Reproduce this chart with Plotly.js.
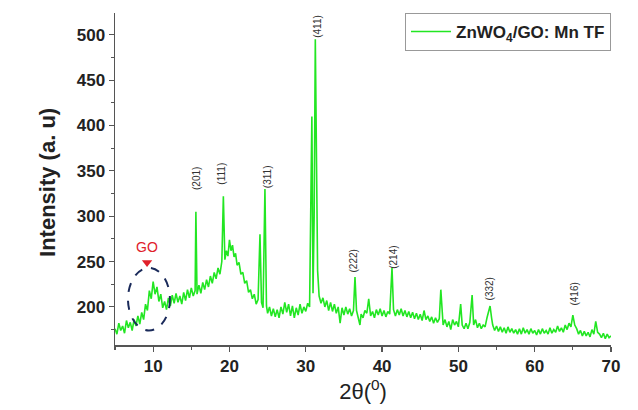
<!DOCTYPE html>
<html><head><meta charset="utf-8">
<script src="https://cdn.plot.ly/plotly-3.0.1.min.js"></script>
<style>html,body{margin:0;padding:0;background:#fff}#chart{width:638px;height:410px}</style>
</head><body><div id="chart"></div>
<script>
const twoTheta = [5.0,5.25,5.5,5.75,6.0,6.25,6.5,6.75,7.0,7.25,7.5,7.75,8.0,8.25,8.5,8.75,9.0,9.25,9.5,9.75,10.0,10.25,10.5,10.75,11.0,11.25,11.5,11.75,12.0,12.25,12.5,12.75,13.0,13.25,13.5,13.75,14.0,14.25,14.5,14.75,15.0,15.25,15.5,15.6,15.75,16.0,16.25,16.5,16.75,17.0,17.25,17.5,17.75,18.0,18.25,18.5,18.75,19.0,19.2,19.4,19.6,19.8,20.0,20.2,20.4,20.6,20.8,21.0,21.25,21.5,21.75,22.0,22.25,22.5,22.75,23.0,23.25,23.5,23.75,24.0,24.2,24.4,24.65,24.85,25.0,25.25,25.5,25.75,26.0,26.25,26.5,26.75,27.0,27.25,27.5,27.75,28.0,28.25,28.5,28.75,29.0,29.25,29.5,29.75,30.0,30.25,30.5,30.8,30.95,31.1,31.25,31.4,31.55,31.75,32.0,32.25,32.5,32.75,33.0,33.25,33.5,33.75,34.0,34.25,34.5,34.75,35.0,35.25,35.5,35.75,36.0,36.25,36.45,36.65,36.9,37.1,37.25,37.5,37.75,38.0,38.25,38.5,38.75,39.0,39.25,39.5,39.75,40.0,40.25,40.5,40.75,41.0,41.3,41.5,41.75,42.0,42.25,42.5,42.75,43.0,43.25,43.5,43.75,44.0,44.25,44.5,44.75,45.0,45.25,45.5,45.75,46.0,46.25,46.5,46.75,47.0,47.25,47.5,47.7,47.9,48.0,48.25,48.5,48.75,49.0,49.25,49.5,49.75,50.0,50.3,50.5,50.75,51.0,51.25,51.5,51.8,52.0,52.25,52.5,52.75,53.0,53.25,53.5,53.75,54.0,54.15,54.35,54.5,54.75,55.0,55.25,55.5,55.75,56.0,56.25,56.5,56.75,57.0,57.25,57.5,57.75,58.0,58.25,58.5,58.75,59.0,59.25,59.5,59.75,60.0,60.25,60.5,60.75,61.0,61.25,61.5,61.75,62.0,62.25,62.5,62.75,63.0,63.25,63.5,63.75,64.0,64.25,64.5,64.75,65.0,65.25,65.5,65.75,66.0,66.25,66.5,66.75,67.0,67.25,67.5,67.75,68.0,68.25,68.5,68.75,69.0,69.25,69.5,69.75,70.0];
const intensity = [176,170,182,174,179,171,185,177,183,174,186,179,190,181,194,186,203,196,218,209,228,214,222,206,214,199,206,197,210,201,213,204,215,205,212,203,216,207,219,210,221,212,218,305,214,224,215,227,219,230,222,234,226,238,231,243,236,250,322,252,262,256,274,262,268,255,259,246,249,236,238,226,229,216,219,209,214,203,208,280,205,199,330,201,193,200,190,198,189,197,188,200,192,205,194,203,190,201,188,199,191,203,193,200,195,204,200,410,215,300,495,380,240,212,204,210,200,207,196,205,195,203,193,200,182,199,191,200,192,198,190,196,233,196,186,180,192,188,196,193,209,190,195,188,197,191,198,190,196,189,195,192,243,197,190,197,191,198,190,196,189,195,188,194,187,193,186,192,185,196,186,190,184,189,182,188,183,187,219,184,180,186,178,184,175,186,180,184,178,203,180,176,182,176,183,213,180,186,177,182,176,180,178,188,198,201,188,180,174,179,173,178,172,177,171,178,172,176,171,175,170,176,170,177,171,175,170,176,171,174,169,175,170,176,171,174,170,177,171,175,172,179,173,177,172,180,175,182,178,191,180,176,170,174,168,173,168,172,167,175,170,184,172,170,166,171,165,170,166,168];
const peakLabels = ['(201)','(111)','(311)','(411)','(222)','(214)','(332)','(416)'];
const peakLabelX = [15.6,18.9,24.9,31.5,36.3,41.4,54.1,65.2];
const peakLabelY = [342,347,344,509,251,255,220,214];
const seriesName = 'ZnWO<sub>4</sub>/GO: Mn TF';
const xTicks = [10,20,30,40,50,60,70];
const yTicks = [200,250,300,350,400,450,500];

const FONT = 'Arial, Liberation Sans, sans-serif';
const ann = peakLabels.map((t,i)=>({x:peakLabelX[i], y:peakLabelY[i], text:t, showarrow:false, textangle:-90,
  font:{family:FONT, size:10, color:'#333'}, xref:'x', yref:'y'}));
ann.push({x:9.2, y:255, text:'GO', showarrow:false, yanchor:'bottom', xref:'x', yref:'y',
  font:{family:FONT, size:14, color:'#e0202a'}});
ann.push({x:-0.165, y:0.49, xref:'paper', yref:'paper', text:'Intensity (a. u)', showarrow:false, textangle:-90,
  font:{family:FONT, size:22, color:'#222', weight:'bold'}});

const data = [
  {x:twoTheta, y:intensity, type:'scatter', mode:'lines', name:seriesName,
   line:{color:'#22e622', width:1.6}},
  {x:[9.2], y:[249], type:'scatter', mode:'markers', showlegend:false, hoverinfo:'skip',
   marker:{symbol:'triangle-down', size:9, color:'#e0202a'}}
];
const layout = {
  width:638, height:410,
  margin:{l:115, r:27, t:13, b:65},
  paper_bgcolor:'#fff', plot_bgcolor:'#fff',
  showlegend:true,
  legend:{x:1.0, y:1.0, xanchor:'right', yanchor:'top', bgcolor:'rgba(255,255,255,0)',
    bordercolor:'#999', borderwidth:1,
    font:{family:FONT, size:17, color:'#222', weight:'bold'},
    tracegroupgap:0, itemwidth:40},
  xaxis:{range:[5,70], tickvals:xTicks, ticks:'outside', ticklen:5, tickwidth:1.2, tickcolor:'#555',
    showline:true, linecolor:'#555', linewidth:1.5, showgrid:false, zeroline:false,
    minor:{dtick:5, ticks:'outside', ticklen:3, tickcolor:'#555'},
    tickfont:{family:FONT, size:17, color:'#222', weight:'bold'},
    title:{text:'2θ(<sup>0</sup>)', font:{family:FONT, size:22, color:'#222'}, standoff:6}},
  yaxis:{range:[158,524], tickvals:yTicks, ticks:'outside', ticklen:5, tickwidth:1.2, tickcolor:'#555',
    showline:true, linecolor:'#555', linewidth:1.5, showgrid:false, zeroline:false,
    minor:{dtick:25, ticks:'outside', ticklen:3, tickcolor:'#555'},
    tickfont:{family:FONT, size:17, color:'#222', weight:'bold'}},
  annotations:ann,
  shapes:[{type:'circle', xref:'x', yref:'y', x0:6.7, x1:12.2, y0:174, y1:243,
    line:{color:'#1a2a5a', width:2, dash:'dash'}}]
};
Plotly.newPlot('chart', data, layout, {staticPlot:true});
</script></body></html>
